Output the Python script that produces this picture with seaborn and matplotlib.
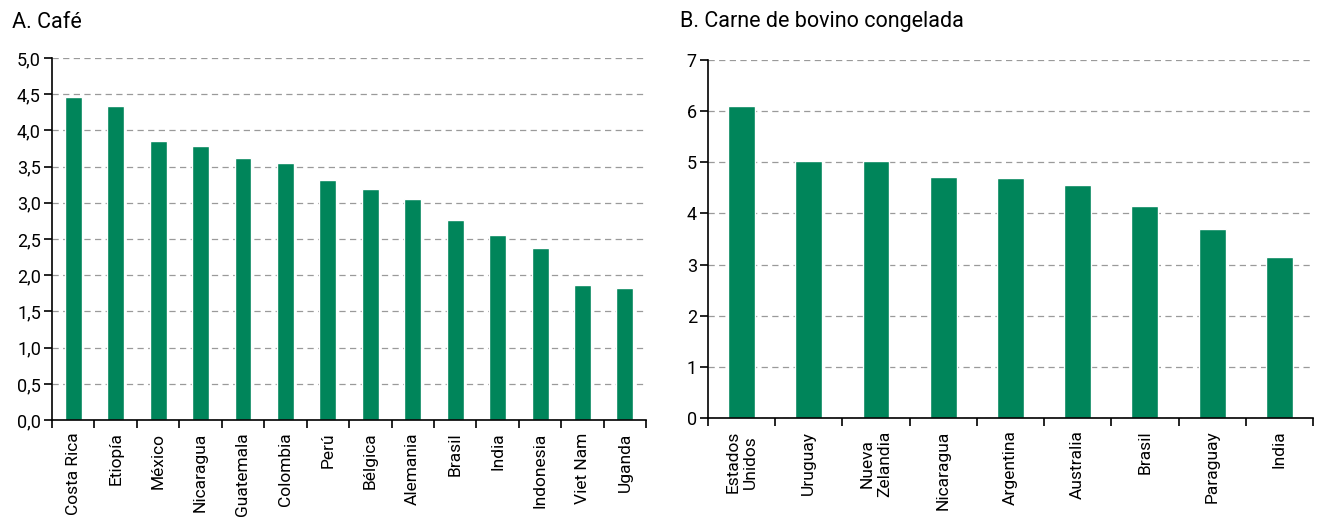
import seaborn as sns
import matplotlib.pyplot as plt
from matplotlib.ticker import FixedLocator, FuncFormatter

# Panel A: coffee
cafe_countries = ["Costa Rica", "Etiopía", "México", "Nicaragua", "Guatemala", "Colombia",
                  "Perú", "Bélgica", "Alemania", "Brasil", "India", "Indonesia",
                  "Viet Nam", "Uganda"]
cafe_values = [4.46, 4.34, 3.85, 3.78, 3.62, 3.55, 3.31, 3.19, 3.05, 2.77, 2.56, 2.38, 1.86, 1.83]

# Panel B: frozen beef
carne_countries = ["Estados\nUnidos", "Uruguay", "Nueva\nZelandia", "Nicaragua", "Argentina",
                   "Australia", "Brasil", "Paraguay", "India"]
carne_values = [6.10, 5.03, 5.03, 4.72, 4.69, 4.55, 4.14, 3.70, 3.15]

GREEN = "#00855A"

sns.set_style("white")
plt.rcParams['font.family'] = ['Roboto', 'DejaVu Sans']
plt.rcParams['text.color'] = 'black'
plt.rcParams['xtick.color'] = 'black'
plt.rcParams['ytick.color'] = 'black'


def panel(ax, cats, vals, ymax, step, fmt):
    sns.barplot(x=cats, y=vals, ax=ax, color=GREEN, width=0.4, saturation=1)
    n = len(cats)
    ax.set_xlim(-0.5, n - 0.5)
    ax.set_ylim(0, ymax)
    ax.set_yticks([i * step for i in range(int(round(ymax / step)) + 1)])
    ax.yaxis.set_major_formatter(FuncFormatter(fmt))
    ax.set_axisbelow(True)
    ax.yaxis.grid(True, linestyle=(0, (5, 3.5)), color="#9a9a9a", linewidth=0.9)
    ax.xaxis.grid(False)
    sns.despine(ax=ax, top=True, right=True)
    for s in ["left", "bottom"]:
        ax.spines[s].set_color("black")
        ax.spines[s].set_linewidth(1.2)
    # tick marks between categories
    ax.xaxis.set_minor_locator(FixedLocator([i - 0.5 for i in range(n + 1)]))
    ax.tick_params(axis="x", which="major", length=0, pad=9, labelsize=12.5, rotation=90)
    ax.tick_params(axis="x", which="minor", length=6, width=1.2, direction="out")
    ax.tick_params(axis="y", length=6, width=1.2, direction="out", labelsize=13, pad=2)
    ax.tick_params(bottom=True, left=True, which="both")
    for lab in ax.get_xticklabels():
        lab.set_verticalalignment("top")
        lab.set_multialignment("center")


fig = plt.figure(figsize=(13.24, 5.18), dpi=100)
ax1 = fig.add_axes([0.0393, 0.189, 0.4487, 0.699])
ax2 = fig.add_axes([0.5347, 0.193, 0.457, 0.691])

panel(ax1, cafe_countries, cafe_values, 5.0, 0.5,
      lambda v, p: f"{v:.1f}".replace(".", ","))
panel(ax2, carne_countries, carne_values, 7, 1,
      lambda v, p: f"{v:.0f}")

fig.text(12 / 1324, 1 - 22 / 518, "A. Café", fontsize=15.5, va="center", ha="left")
fig.text(680 / 1324, 1 - 22 / 518, "B. Carne de bovino congelada", fontsize=15.5,
         va="center", ha="left")

fig.savefig("out.png", dpi=100)
